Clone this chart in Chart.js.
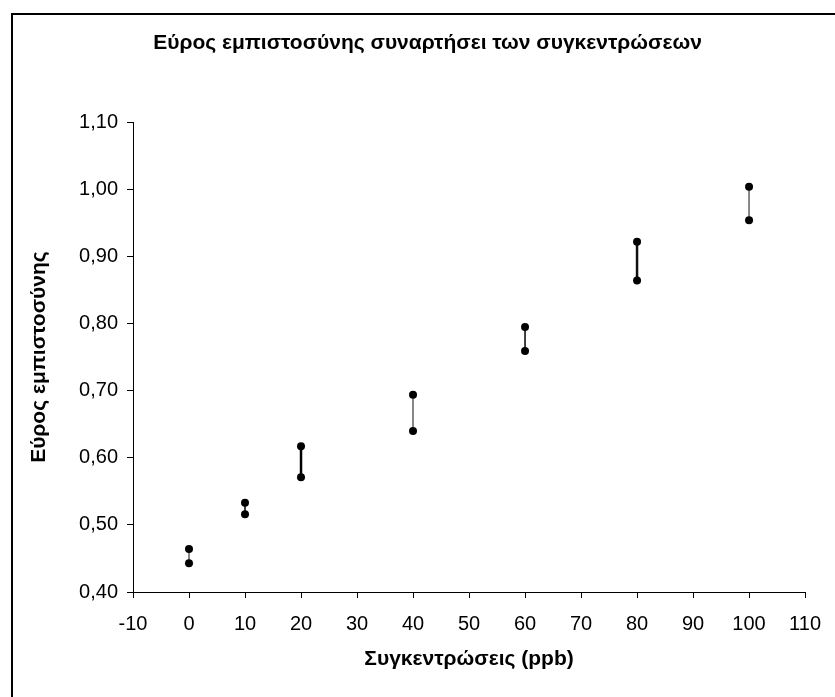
<!DOCTYPE html>
<html>
<head>
<meta charset="utf-8">
<script src="https://cdn.jsdelivr.net/npm/chart.js@4.4.1/dist/chart.umd.min.js"></script>
<style>
  html, body { margin: 0; padding: 0; background: #fff; }
  #wrap { position: relative; width: 835px; height: 697px; }
  #frame { position: absolute; left: 11px; top: 13px; width: 840px; height: 700px; border-left: 2px solid #000; border-top: 2px solid #000; box-sizing: border-box; pointer-events: none; }
</style>
</head>
<body>
<div id="wrap">
  <canvas id="rangeChart" width="835" height="697"></canvas>
  <div id="frame"></div>
</div>
<script>
// concentrations (ppb) and the upper / lower ends of the confidence range
const concentrations = [0, 10, 20, 40, 60, 80, 100];
const upperLimits = [0.464, 0.533, 0.617, 0.694, 0.795, 0.922, 1.004];
const lowerLimits = [0.443, 0.516, 0.571, 0.640, 0.759, 0.864, 0.954];
const xTicks = [-10, 0, 10, 20, 30, 40, 50, 60, 70, 80, 90, 100, 110];
const yTicks = [0.40, 0.50, 0.60, 0.70, 0.80, 0.90, 1.00, 1.10];

// the connecting lines are not all drawn the same in the original
const segmentWidths = [1, 1.5, 2.5, 1, 1.5, 2.5, 1];
const segmentColors = ['#777', '#000', '#000', '#777', '#000', '#111', '#777'];

const tickFont = { family: 'Liberation Sans, Arial, sans-serif', size: 20 };
const boldFont = { family: 'Liberation Sans, Arial, sans-serif', size: 21, weight: 'bold' };

const datasets = concentrations.map((c, i) => ({
    data: [{ x: c, y: upperLimits[i] }, { x: c, y: lowerLimits[i] }],
    showLine: true,
    borderColor: segmentColors[i],
    borderWidth: segmentWidths[i],
    pointRadius: 4,
    pointBackgroundColor: '#000',
    pointBorderColor: '#000',
    pointBorderWidth: 0
}));

const ctx = document.getElementById('rangeChart').getContext('2d');
new Chart(ctx, {
    type: 'scatter',
    data: { datasets: datasets },
    options: {
        responsive: false,
        animation: false,
        // left padding is wider so the chart title sits where it does in the original
        layout: { padding: { left: 48, right: 28, top: 0, bottom: 0 } },
        plugins: {
            legend: { display: false },
            tooltip: { enabled: false },
            title: {
                display: true,
                text: 'Εύρος εμπιστοσύνης συναρτήσει των συγκεντρώσεων',
                color: '#000',
                font: boldFont,
                padding: { top: 31, bottom: 66 }
            }
        },
        scales: {
            x: {
                type: 'linear',
                min: -10,
                max: 110,
                afterBuildTicks: (scale) => { scale.ticks = xTicks.map(v => ({ value: v })); },
                afterFit: (scale) => { scale.height = 105; },
                ticks: { color: '#000', font: tickFont, padding: 14, maxRotation: 0 },
                grid: { drawOnChartArea: false, color: '#000', tickLength: 6, tickWidth: 1 },
                border: { color: '#000', width: 1 },
                title: {
                    display: true,
                    text: 'Συγκεντρώσεις (ppb)',
                    color: '#000',
                    font: boldFont,
                    padding: { top: 0, bottom: 25 }
                }
            },
            y: {
                type: 'linear',
                min: 0.4,
                max: 1.1,
                afterBuildTicks: (scale) => { scale.ticks = yTicks.map(v => ({ value: v })); },
                afterFit: (scale) => { scale.width = 85; },
                ticks: {
                    color: '#000',
                    font: tickFont,
                    padding: 9,
                    callback: (v) => v.toFixed(2).replace('.', ',')
                },
                grid: { drawOnChartArea: false, color: '#000', tickLength: 6, tickWidth: 1 },
                border: { color: '#000', width: 1 },
                title: {
                    display: true,
                    text: 'Εύρος εμπιστοσύνης',
                    color: '#000',
                    font: boldFont,
                    padding: { top: -21, bottom: 0 }
                }
            }
        }
    }
});
</script>
</body>
</html>
